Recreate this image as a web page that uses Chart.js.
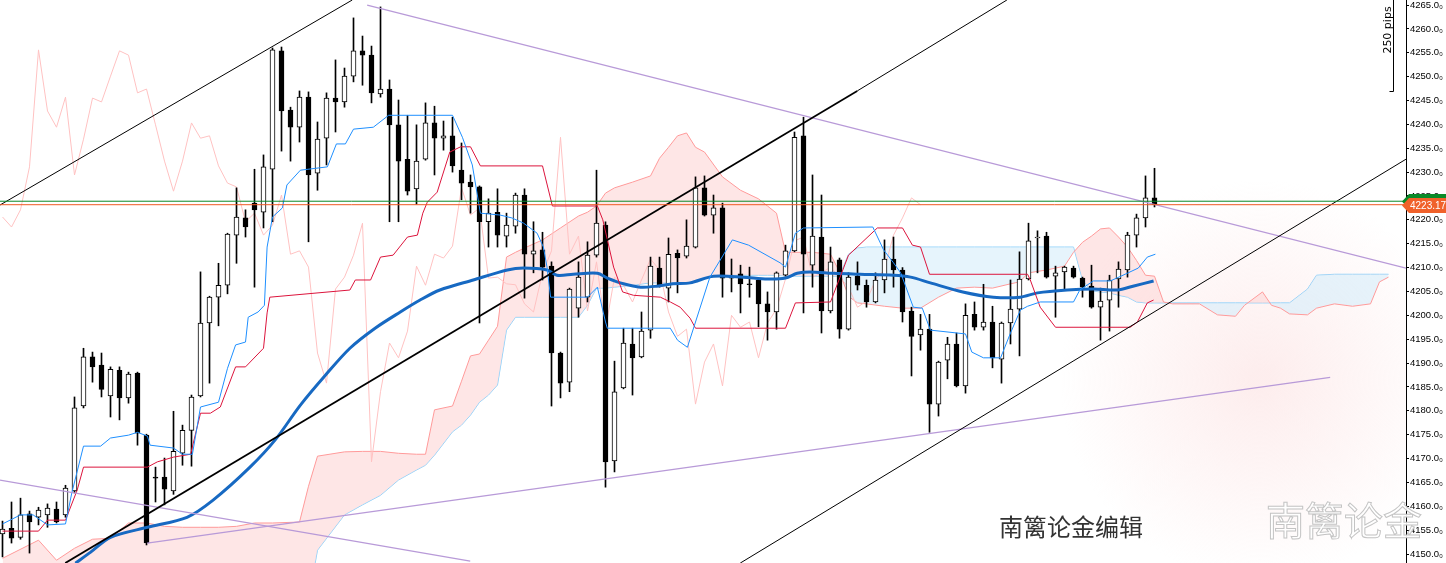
<!DOCTYPE html>
<html>
<head>
<meta charset="utf-8">
<script src="https://cdn.jsdelivr.net/npm/chart.js@4.4.1/dist/chart.umd.min.js"></script>
<style>
html,body{margin:0;padding:0;background:#fff;}
#wrap{width:1446px;height:563px;position:relative;overflow:hidden;}
</style>
</head>
<body>
<div id="wrap"><canvas id="chart" width="1446" height="563"></canvas></div>
<script>
// candle data, one entry per bar (index 0 = leftmost)
const opens = [4154.2,4155.4,4153.5,4158.4,4157.7,4158.2,4159.4,4158.2,4163.2,4181.0,
4191.3,4189.6,4183.1,4188.5,4182.7,4187.9,4174.9,4166.1,4166.1,4163.2,
4171.1,4175.9,4183.1,4198.4,4203.8,4206.3,4216.8,4220.4,4223.5,4221.6,
4230.6,4255.4,4243.0,4239.4,4245.7,4229.8,4237.1,4245.5,4244.7,4250.1,
4255.4,4254.5,4246.4,4247.4,4239.9,4232.7,4226.5,4232.7,4240.3,4237.1,
4237.6,4230.4,4227.9,4226.9,4219.6,4221.6,4216.6,4218.7,4225.2,4212.8,
4213.7,4210.3,4192.1,4186.0,4201.5,4203.8,4212.6,4218.9,4169.5,4184.8,
4194.0,4191.3,4196.9,4209.9,4205.7,4213.0,4212.4,4214.3,4226.7,4221.0,
4222.5,4207.8,4208.7,4206.6,4207.4,4202.4,4200.7,4208.4,4213.5,4237.6,
4210.5,4216.4,4200.9,4211.6,4197.1,4208.2,4206.3,4202.8,4207.4,4211.8,
4209.5,4200.9,4195.9,4197.1,4181.4,4190.6,4194.0,4185.2,4200.2,4197.5,
4198.6,4190.8,4198.4,4201.3,4207.6,4216.2,4216.6,4208.2,4209.1,4209.9,
4207.8,4206.1,4201.7,4203.2,4207.6,4209.5,4216.8,4220.4,4224.6];
const highs = [4156.9,4160.9,4161.7,4159.0,4159.8,4160.5,4160.9,4164.4,4182.9,4193.1,
4192.3,4192.1,4189.2,4189.2,4188.1,4188.1,4175.1,4168.2,4170.1,4179.9,
4177.0,4183.3,4209.1,4204.0,4210.9,4217.2,4226.7,4222.1,4230.6,4233.6,
4256.0,4256.2,4243.6,4247.0,4246.8,4240.5,4246.6,4253.5,4251.8,4262.3,
4258.5,4256.4,4264.6,4249.3,4245.1,4241.9,4239.9,4244.5,4243.8,4240.7,
4241.5,4236.1,4229.4,4227.1,4224.4,4226.5,4221.4,4225.6,4226.5,4219.6,
4217.4,4211.2,4192.3,4205.7,4211.2,4215.4,4230.4,4219.6,4190.4,4197.3,
4197.3,4200.7,4212.2,4212.2,4216.2,4213.7,4220.0,4229.0,4229.2,4225.2,
4223.5,4211.8,4210.5,4210.1,4207.6,4204.9,4209.1,4214.7,4238.4,4241.5,
4229.4,4225.2,4214.3,4212.0,4208.9,4211.2,4207.4,4208.9,4215.8,4216.4,
4210.0,4201.7,4200.2,4200.2,4190.4,4195.4,4196.3,4202.4,4202.8,4206.5,
4201.9,4198.6,4207.4,4213.3,4219.3,4217.7,4217.4,4210.3,4210.3,4210.3,
4208.0,4210.5,4205.7,4208.4,4211.2,4217.4,4221.2,4229.2,4230.8];
const lows = [4149.4,4152.3,4153.1,4150.2,4156.1,4155.6,4156.5,4157.7,4162.8,4180.6,
4186.0,4182.9,4178.7,4178.1,4181.6,4172.8,4151.9,4160.9,4160.3,4162.5,
4168.6,4168.4,4182.9,4185.8,4197.8,4204.5,4210.9,4216.4,4205.9,4218.3,
4219.6,4234.4,4232.3,4236.3,4215.4,4226.2,4231.5,4238.4,4243.6,4248.9,
4248.2,4244.5,4245.7,4219.6,4219.6,4225.2,4223.3,4232.5,4229.4,4234.6,
4230.0,4224.2,4221.4,4198.4,4214.3,4214.3,4214.3,4217.2,4203.6,4208.9,
4207.4,4181.0,4182.7,4184.0,4199.6,4202.8,4212.2,4164.0,4167.2,4184.6,
4183.3,4191.1,4195.2,4205.9,4202.8,4204.7,4212.0,4214.1,4220.8,4217.2,
4203.8,4204.9,4200.5,4203.8,4197.6,4194.8,4197.1,4208.2,4213.3,4200.5,
4205.9,4196.3,4200.5,4195.2,4196.9,4205.3,4201.7,4202.6,4204.7,4205.9,
4198.6,4187.3,4192.7,4175.5,4178.9,4186.7,4185.0,4183.7,4196.9,4196.9,
4189.0,4185.8,4194.0,4191.5,4207.4,4208.9,4207.8,4199.6,4205.5,4207.8,
4203.8,4201.5,4194.8,4196.7,4201.7,4208.0,4214.3,4218.5,4222.7];
const closes = [4155.2,4153.3,4158.2,4156.7,4159.2,4159.6,4156.7,4163.8,4180.6,4191.3,
4189.2,4184.5,4188.7,4182.7,4187.7,4175.3,4152.3,4165.9,4163.6,4171.5,
4175.9,4182.9,4198.4,4203.8,4206.3,4217.0,4220.6,4218.5,4222.1,4231.1,
4255.6,4242.8,4239.4,4245.7,4229.4,4236.9,4245.5,4244.7,4250.1,4255.4,
4254.5,4246.6,4247.4,4239.9,4232.3,4226.0,4232.3,4240.3,4237.1,4237.6,
4231.3,4227.7,4226.9,4219.6,4221.4,4216.8,4218.9,4225.2,4212.8,4213.5,
4210.1,4192.1,4185.8,4205.5,4208.0,4212.6,4219.3,4169.3,4184.0,4194.2,
4191.1,4196.7,4210.3,4206.3,4212.8,4212.0,4214.5,4226.7,4221.0,4222.5,
4207.8,4208.0,4206.6,4206.4,4202.4,4200.7,4208.9,4213.5,4237.3,4212.8,
4216.6,4200.9,4211.2,4197.1,4208.0,4206.3,4202.8,4207.4,4211.8,4209.5,
4200.7,4195.6,4197.1,4181.4,4190.2,4194.0,4185.2,4200.0,4197.5,4198.6,
4191.1,4198.4,4201.3,4207.6,4215.6,4216.4,4208.0,4208.9,4210.1,4208.0,
4205.9,4201.7,4203.0,4207.4,4209.7,4216.8,4220.4,4224.6,4223.17];

// tenkan-sen (blue thin), read at bar positions
const tenkanIdx = [0,2,3.4,5,7,7.7,9,10.9,12,14,15,16.1,16.4,19,20,21.1,22,24,25,25.9,27,27.3,28.4,29.1,29.4,30,31.1,31.6,33.1,36.1,37.1,38.1,39,41.2,42.9,50,51.1,52.2,53.1,55.3,56.6,57.9,59.4,60.1,60.5,60.9,65,66.1,67,67.2,74.2,75,76.1,78.6,81.1,82.9,86.4,87,88.1,89,96.7,97.9,99,99.8,101.2,102.2,103.1,107,107.7,109,110.9,112,113.1,113.9,115.3,119,119.7,121.2,123.1,124.5,126.2,127.2,128.1];
const tenkanVal = [4156.3,4158.2,4158.2,4156.1,4156.3,4162.8,4172.6,4172.6,4174.3,4174.9,4175.5,4174.7,4172.8,4172.2,4170.9,4170.9,4180.8,4181.8,4188.9,4193.8,4194.4,4199.6,4200.7,4202.1,4214.3,4220.6,4222.5,4227.3,4230.4,4231.1,4235.9,4235.9,4239.0,4239.4,4241.9,4241.9,4237.3,4231.5,4221.4,4221.0,4220.4,4219.3,4217.2,4214.3,4210.1,4203.8,4203.8,4205.9,4198.6,4197.3,4197.3,4194.8,4193.3,4208.0,4215.8,4214.7,4211.0,4210.1,4217.2,4218.3,4218.5,4213.7,4211.0,4208.9,4201.7,4201.5,4196.9,4196.1,4192.3,4191.1,4191.1,4196.3,4201.1,4201.9,4202.8,4202.8,4205.3,4207.2,4207.2,4208.4,4209.9,4212.2,4212.8];

// kijun-sen (red)
const kijunIdx = [0,4,5,7,8.3,9,16.1,17.2,19,20.9,22,23.1,24.2,25.9,27,29,29.4,29.7,38.6,39.2,40.9,42,43.4,45,46.1,46.7,47.2,48.3,49.7,50.9,52,53.1,60,61.1,66.1,66.7,67.9,68.9,70.1,73.1,74.2,75.3,76.4,77,87,88.1,92,94,97.2,100,101.1,102,103,113.9,114.2,115.3,117,125.3,126.1,127.2,127.9];
const kijunVal = [4154.8,4154.8,4157.1,4157.1,4163.4,4168.2,4168.2,4169.3,4170.3,4170.9,4179.5,4179.5,4180.8,4189.2,4189.2,4193.1,4200.5,4203.8,4205.3,4207.4,4207.4,4212.2,4212.6,4216.4,4216.8,4221.4,4223.7,4225.8,4234.2,4235.3,4235.3,4231.3,4231.3,4222.9,4222.9,4220.0,4210.1,4204.9,4204.2,4203.8,4202.8,4201.7,4199.4,4197.3,4197.3,4202.6,4202.8,4212.6,4218.3,4218.3,4214.7,4214.3,4208.6,4208.6,4207.4,4201.7,4197.5,4197.5,4198.6,4202.6,4203.2];

// moving average (thick blue)
const maIdx = [8.1,9.8,12,16.1,20.5,23.4,27.5,30.3,33.1,35.9,38.6,41.4,44.2,46.4,48.6,52.3,56.1,57.9,60.5,61.6,63.4,66.1,67.2,69,70.9,72.7,74.5,76.4,79,82.3,85,87,88.3,89.7,92.3,95.3,99,100.9,103.1,106.7,110.1,113.1,115,118.3,121.2,123.9,125.6,127.9];
const maVal = [4148.1,4150.4,4153.5,4155.6,4157.7,4161.3,4168.2,4173.9,4181.2,4187.5,4193.1,4197.3,4200.7,4203.2,4205.3,4207.4,4209.5,4209.9,4209.5,4208.4,4208.6,4208.8,4207.8,4206.6,4205.9,4206.1,4206.6,4206.8,4208.2,4208.0,4207.6,4207.8,4208.8,4209.1,4208.8,4208.6,4208.4,4208.0,4206.8,4204.9,4203.8,4203.8,4204.7,4205.3,4205.5,4205.3,4206.1,4207.2];

// cloud: senkou span A (salmon) and span B (light blue)
const cloudIdx = [0,4,6,8,10,12,14,16,18,20,22,24,26,28,30,33,34,35,38,40,42,44,46,47,48,50,51,52,53,54,55,56,57,58,60,62,64,65,66,67,68,70,72,73,74,75,76,77,78,80,82,84,85,86,87,90,92,93,94,95,96,98,100,102,104,106,108,110,112,113,114,116,118,119,120,121,122,123,124,125,126,127,128,129,130,133,135,137,138,140,141,142,143,145,146,148,150,152,153,154];
const spanA = [4149.1,4152.9,4148.7,4151.2,4153.1,4153.3,4156.5,4156.5,4155.8,4155.6,
4155.6,4155.6,4155.8,4156.5,4156.5,4156.7,4164.2,4170.5,4171.4,4171.5,
4171.5,4171.1,4170.9,4170.9,4180.2,4181.0,4186.2,4191.5,4191.9,4194.8,
4197.7,4212.2,4213.2,4214.1,4215.8,4218.3,4220.8,4221.6,4222.9,4225.6,
4226.7,4227.9,4229.2,4232.9,4235.2,4237.6,4238.2,4235.2,4234.2,4229.0,
4226.2,4224.4,4222.9,4221.4,4213.2,4213.2,4212.8,4209.1,4204.0,4202.6,
4202.4,4201.9,4201.5,4201.5,4203.8,4205.7,4205.9,4205.7,4206.6,4207.0,
4208.9,4209.5,4210.3,4213.2,4215.3,4216.6,4218.1,4218.3,4216.4,4214.3,
4211.5,4208.4,4208.2,4202.8,4202.4,4202.4,4200.1,4199.8,4202.1,4204.9,
4202.1,4201.5,4200.3,4200.1,4201.5,4202.4,4201.9,4202.4,4207.0,4208.0];
const spanB = [4140.3,4140.3,4140.3,4140.3,4140.3,4140.3,4140.3,4140.3,4140.3,4140.3,
4140.3,4140.3,4140.3,4140.3,4140.3,4140.3,4140.3,4150.8,4158.2,4160.3,
4162.3,4165.5,4167.6,4168.6,4170.7,4175.6,4177.0,4179.1,4181.8,4183.3,
4185.4,4196.9,4199.6,4199.6,4199.6,4199.6,4199.6,4202.1,4205.7,4205.7,
4205.9,4206.3,4206.8,4206.8,4206.8,4206.8,4206.8,4207.2,4208.0,4208.4,
4208.4,4208.4,4208.4,4208.4,4208.2,4208.2,4208.2,4208.2,4212.8,4214.1,
4214.3,4214.3,4214.3,4214.3,4214.3,4214.3,4214.3,4214.3,4214.3,4214.3,
4214.3,4214.3,4214.3,4214.3,4207.4,4205.1,4204.9,4204.7,4204.2,4203.8,
4202.8,4202.6,4202.6,4202.6,4202.6,4202.6,4202.6,4202.6,4202.6,4202.6,
4202.6,4202.6,4202.6,4205.5,4208.4,4208.6,4208.6,4208.6,4208.6,4208.6];

// hand drawn trend lines: [bar index, price] end points
const blackLines = [
  [[-0.28,4223.1],[38.86,4266.05]],
  [[81.97,4148.1],[155.94,4232.7]],
  [[94.97,4247.0],[111.6,4266.05]]
];
const channelLine = [[6.97,4148.1],[94.97,4247.0]];
const purpleLines = [
  [[40.52,4265.0],[155.94,4209.9]],
  [[-0.28,4165.5],[51.97,4148.5]],
  [[16.08,4152.3],[147.52,4187.0]]
];
const askPrice = 4223.9;
const bidPrice = 4223.17;
const priceTicks = [4150,4155,4160,4165,4170,4175,4180,4185,4190,4195,4200,4205,4210,4215,4220,4225,4230,4235,4240,4245,4250,4255,4260,4265];

const xMin = -0.2778, xMax = 155.944;
const yMin = 4148.12, yMax = 4266.05;

function pts(idx, vals) { return idx.map((x, i) => ({ x: x, y: vals[i] })); }
function seg(line) { return line.map(p => ({ x: p[0], y: p[1] })); }

const bodies = opens.map((o, i) => ({ x: i, y: [o, closes[i]] }));
const wicks = lows.map((l, i) => ({ x: i, y: [l, highs[i]] }));
const bodyColors = opens.map((o, i) => closes[i] >= o ? '#ffffff' : '#000000');
const chikou = closes.slice(26).map((c, i) => ({ x: i, y: c }));

const datasets = [];
datasets.push({ type: 'line', data: pts(cloudIdx, spanA), borderColor: '#ff9a9a', borderWidth: 1, pointRadius: 0,
  fill: { target: '+1', above: 'rgba(253,214,214,0.62)', below: 'rgba(214,238,250,0.62)' }, order: 20 });
datasets.push({ type: 'line', data: pts(cloudIdx, spanB), borderColor: '#87cefa', borderWidth: 1, pointRadius: 0, fill: false, order: 21 });
datasets.push({ type: 'line', data: chikou, borderColor: '#ffc2c2', borderWidth: 1, pointRadius: 0, fill: false, order: 15 });
datasets.push({ type: 'bar', data: wicks, backgroundColor: '#000', borderWidth: 0, barThickness: 1, grouped: false, order: 12 });
datasets.push({ type: 'bar', data: bodies, backgroundColor: bodyColors, borderColor: '#000', borderWidth: 1,
  borderSkipped: false, barThickness: 5, grouped: false, order: 11 });
datasets.push({ type: 'line', data: pts(maIdx, maVal), borderColor: '#1769c2', borderWidth: 3, pointRadius: 0, fill: false, tension: 0.3, order: 6 });
datasets.push({ type: 'line', data: pts(tenkanIdx, tenkanVal), borderColor: '#1e8fff', borderWidth: 1, pointRadius: 0, fill: false, order: 5 });
datasets.push({ type: 'line', data: pts(kijunIdx, kijunVal), borderColor: '#dc143c', borderWidth: 1, pointRadius: 0, fill: false, order: 5 });
blackLines.forEach(l => datasets.push({ type: 'line', data: seg(l), borderColor: '#000', borderWidth: 1, pointRadius: 0, fill: false, order: 3 }));
datasets.push({ type: 'line', data: seg(channelLine), borderColor: '#000', borderWidth: 1.7, pointRadius: 0, fill: false, order: 3 });
purpleLines.forEach(l => datasets.push({ type: 'line', data: seg(l), borderColor: '#b89ad8', borderWidth: 1.3, pointRadius: 0, fill: false, order: 3 }));
datasets.push({ type: 'line', data: [{ x: xMin, y: askPrice }, { x: xMax, y: askPrice }], borderColor: '#0a8a28', borderWidth: 1, pointRadius: 0, fill: false, order: 1 });
datasets.push({ type: 'line', data: [{ x: xMin, y: bidPrice }, { x: xMax, y: bidPrice }], borderColor: '#ee5a24', borderWidth: 1, pointRadius: 0, fill: false, order: 1 });

const overlay = {
  id: 'overlay',
  beforeDatasetsDraw(chart) {
    const c = chart.ctx;
    c.save();
    const g = c.createRadialGradient(1260, 380, 10, 1260, 380, 200);
    g.addColorStop(0, 'rgba(252,226,226,0.6)');
    g.addColorStop(1, 'rgba(252,226,226,0)');
    c.fillStyle = g;
    c.fillRect(1050, 150, 356, 413);
    c.restore();
  },
  afterDraw(chart) {
    const c = chart.ctx;
    const ys = chart.scales.y;
    c.save();
    // pips ruler
    c.strokeStyle = '#000';
    c.lineWidth = 1;
    c.beginPath();
    c.moveTo(1393.5, 0); c.lineTo(1393.5, 91.5); c.lineTo(1389.5, 91.5);
    c.stroke();
    c.translate(1388, 30);
    c.rotate(-Math.PI / 2);
    c.fillStyle = '#000';
    c.font = '11px "DejaVu Sans", sans-serif';
    c.textAlign = 'center';
    c.textBaseline = 'middle';
    c.fillText('250 pips', 0, 0);
    c.restore();

    // price tags on the axis
    const tag = (price, color, text) => {
      const y = Math.round(ys.getPixelForValue(price)) + 0.5;
      c.save();
      c.fillStyle = color;
      c.beginPath();
      c.moveTo(1402, y);
      c.lineTo(1409, y - 7.5);
      c.lineTo(1446, y - 7.5);
      c.lineTo(1446, y + 7.5);
      c.lineTo(1409, y + 7.5);
      c.closePath();
      c.fill();
      if (text) {
        c.fillStyle = '#fff';
        c.font = '10px "Liberation Sans", Arial, sans-serif';
        c.textBaseline = 'middle';
        c.fillText(text, 1410, y + 0.5);
      }
      c.restore();
    };
    tag(askPrice, '#0a8a28', '');
    tag(bidPrice, '#f0612a', bidPrice.toFixed(2));

    // watermark texts
    c.save();
    c.font = '24px "Noto Sans CJK SC", sans-serif';
    c.fillStyle = '#333';
    c.textBaseline = 'alphabetic';
    c.fillText('南篱论金编辑', 999, 536);
    c.font = '39px "Noto Sans CJK SC", sans-serif';
    c.fillStyle = 'rgba(255,255,255,0.92)';
    c.strokeStyle = '#c4c4c4';
    c.lineWidth = 1;
    c.fillText('南篱论金', 1266, 535);
    c.strokeText('南篱论金', 1266, 535);
    c.restore();
  }
};

new Chart(document.getElementById('chart'), {
  type: 'bar',
  data: { datasets: datasets },
  options: {
    responsive: false,
    animation: false,
    layout: { padding: 0 },
    plugins: { legend: { display: false }, tooltip: { enabled: false } },
    scales: {
      x: { type: 'linear', min: xMin, max: xMax, offset: false, display: false },
      y: {
        type: 'linear', position: 'right', min: yMin, max: yMax,
        afterBuildTicks: axis => { axis.ticks = priceTicks.map(v => ({ value: v })); },
        afterFit: axis => { axis.width = 40; axis.paddingTop = 0; axis.paddingBottom = 0; },
        border: { display: true, color: '#000', width: 1 },
        grid: { drawOnChartArea: false, drawTicks: true, tickLength: 3, color: '#000' },
        ticks: {
          padding: 1, color: '#000',
          font: { family: '"Liberation Sans", Arial, sans-serif', size: 9.5 },
          callback: v => v.toFixed(1) + '₀'
        }
      }
    }
  },
  plugins: [overlay]
});
</script>
</body>
</html>
